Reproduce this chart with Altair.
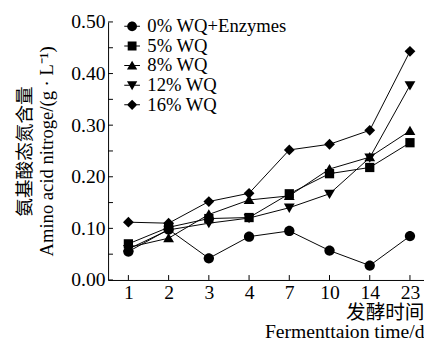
import altair as alt
import pandas as pd

days = ["1", "2", "3", "4", "7", "10", "14", "23"]
series = ["0% WQ+Enzymes", "5% WQ", "8% WQ", "12% WQ", "16% WQ"]
v0 = [0.055, 0.098, 0.042, 0.084, 0.095, 0.057, 0.028, 0.085]
v5 = [0.070, 0.102, 0.119, 0.121, 0.167, 0.206, 0.218, 0.266]
v8 = [0.063, 0.081, 0.127, 0.155, 0.163, 0.215, 0.238, 0.289]
v12 = [0.060, 0.097, 0.110, 0.120, 0.140, 0.167, 0.237, 0.377]
v16 = [0.112, 0.110, 0.152, 0.168, 0.252, 0.263, 0.290, 0.443]
yticks = [0.0, 0.05, 0.10, 0.15, 0.20, 0.25, 0.30, 0.35, 0.40, 0.45, 0.50]

rows = []
for name, vals in zip(series, [v0, v5, v8, v12, v16]):
    for i, (d, v) in enumerate(zip(days, vals)):
        rows.append({"i": i, "day": d, "series": name, "value": v})
df = pd.DataFrame(rows)
ytick_df = pd.DataFrame({"value": yticks})
xtick_df = pd.DataFrame({"i": list(range(len(days)))})

# marker shapes (all drawn clockwise on screen)
mark_paths = [
    "M1,0A1,1,0,1,1,-1,0A1,1,0,1,1,1,0Z",
    "M-0.9,-0.9H0.9V0.9H-0.9Z",
    "M0,-1L1.05,0.8H-1.05Z",
    "M0,1L-1.05,-0.8H1.05Z",
    "M0,-1.05L1.05,0L0,1.05L-1.05,0Z",
]
# legend symbols: thin filled bar through the marker
leg_paths = ["M-1.6,-0.1H1.6V0.1H-1.6Z" + p for p in mark_paths]

W, H = 322, 263
FONT = "Liberation Serif, Noto Sans CJK SC"
label_expr = "[" + ",".join("'%s'" % d for d in days) + "][datum.value]"

xenc = alt.X(
    "i:Q",
    scale=alt.Scale(domain=[-0.505, 7.349], nice=False, zero=False),
    axis=alt.Axis(
        values=list(range(len(days))),
        labelExpr=label_expr,
        ticks=False,
        labelPadding=3,
        title=["发酵时间", "Fermenttaion time/d"],
        titleAnchor="end",
        titleAlign="right",
        titleX=W,
        titleY=23,
        titleBaseline="top",
        titleLineHeight=20,
        grid=False,
    ),
)
yenc = alt.Y(
    "value:Q",
    scale=alt.Scale(domain=[0, 0.5], nice=False),
    axis=alt.Axis(
        values=yticks,
        format=".2f",
        ticks=False,
        labelPadding=3,
        title=["氨基酸态氮含量", "Amino acid nitroge/(g · L⁻¹)"],
        titleX=-75,
        titleBaseline="bottom",
        titleLineHeight=22,
        titleFontSize=19,
        grid=False,
    ),
)

base = alt.Chart(df)
lines = base.mark_line(color="black", strokeWidth=1).encode(
    x=xenc, y=yenc, detail="series:N"
)
points = base.mark_point(filled=True, color="black", opacity=1, strokeWidth=0, size=110).encode(
    x="i:Q",
    y="value:Q",
    shape=alt.Shape(
        "series:N", scale=alt.Scale(domain=series, range=mark_paths), legend=None
    ),
)
legend_layer = base.mark_point(filled=True, color="black", opacity=0).encode(
    x="i:Q",
    y="value:Q",
    shape=alt.Shape(
        "series:N",
        scale=alt.Scale(domain=series, range=leg_paths),
        sort=series,
        legend=alt.Legend(
            title=None,
            orient="none",
            legendX=15,
            legendY=-5,
            padding=0,
            symbolSize=100,
            symbolFillColor="black",
            symbolStrokeWidth=0,
            symbolOpacity=1,
            labelFont=FONT,
            labelFontSize=19,
            labelColor="black",
            labelOffset=6,
            rowPadding=-2,
        ),
    ),
)
ytick_rules = alt.Chart(ytick_df).mark_rule(color="black", strokeWidth=1).encode(
    y="value:Q", x=alt.value(0), x2=alt.value(5)
)
xtick_rules = alt.Chart(xtick_df).mark_rule(color="black", strokeWidth=1).encode(
    x="i:Q", y=alt.value(H), y2=alt.value(H - 5)
)

chart = (
    alt.layer(lines, ytick_rules, xtick_rules, points, legend_layer)
    .resolve_scale(shape="independent")
    .properties(
        width=W,
        height=H,
        autosize=alt.AutoSizeParams(type="none"),
        padding={"left": 102, "top": 11, "right": 0, "bottom": 60},
    )
    .configure_view(stroke=None)
    .configure_axis(
        domainColor="black",
        domainWidth=1,
        labelFont=FONT,
        labelFontSize=20,
        labelColor="black",
        titleFont=FONT,
        titleFontSize=20,
        titleFontWeight="normal",
        titleColor="black",
    )
)

chart.save("out.html", embed_options={"renderer": "svg", "actions": False})
